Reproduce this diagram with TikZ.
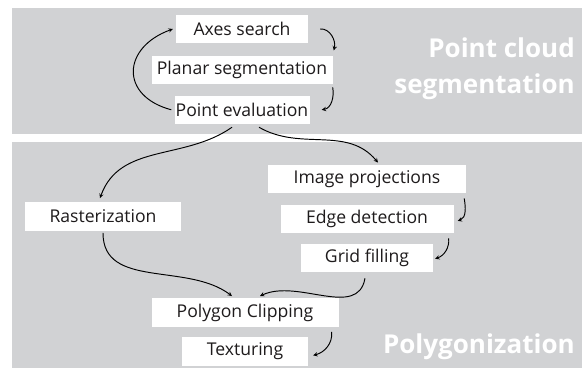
\documentclass[tikz,border=0pt]{standalone}
\usepackage{fontspec}
\setmainfont{Open Sans}
\usepackage{tikz}
\usetikzlibrary{positioning}

\definecolor{panelgray}{RGB}{209,210,212}
\definecolor{textgray}{RGB}{30,27,28}

\begin{document}
\begin{tikzpicture}[x=1pt,y=1pt,>=stealth,
		stepbox/.style={fill=white,text=textgray,font=\fontsize{17.6}{20}\selectfont,minimum height=28.5pt,inner sep=0pt},
		flow/.style={->,line width=0.95pt},
		paneltitle/.style={text=white,font=\fontsize{26}{30}\selectfont\bfseries,anchor=base east,inner sep=0pt}]
				\useasboundingbox (0,0) rectangle (582,-369);
				\fill[panelgray] (12,-8) rectangle (582,-134.5);
				\fill[panelgray] (12,-142) rectangle (582,-368);
				\node[paneltitle] (pctitle) at (575,-58) {Point cloud};
				\node[paneltitle] (segtitle) at (575,-94) {segmentation};
				\node[paneltitle] (polytitle) at (575,-353) {Polygonization};
				\node[stepbox,minimum width=132pt] (axes) at (242,-29) {Axes search};
				\node[stepbox,minimum width=181pt,below=12pt of axes] (planar) {Planar segmentation};
				\node[stepbox,minimum width=135pt,below=11pt of planar] (peval) {Point evaluation};
				\node[stepbox,minimum width=198pt] (imgproj) at (367,-179) {Image projections};
				\node[stepbox,minimum width=173pt,below=11pt of imgproj] (edges) {Edge detection};
				\node[stepbox,minimum width=132pt,below=10pt of edges] (grid) {Grid filling};
				\node[stepbox,minimum width=156pt] (raster) at (103,-216.5) {Rasterization};
				\node[stepbox,minimum width=187pt] (clip) at (245,-312.5) {Polygon Clipping};
				\node[stepbox,minimum width=126pt,below=10pt of clip] (texture) {Texturing};
				\draw[flow] ([xshift=-3pt]peval.west) to[out=165,in=200,looseness=1.7] ([xshift=-3pt]axes.west);
				\draw[flow] ([xshift=12pt]axes.east) to[out=5,in=75] ([xshift=1pt,yshift=5pt]planar.north east);
				\draw[flow] ([yshift=-3pt]planar.south east) to[out=-80,in=10] ([xshift=12pt]peval.east);
				\draw[flow] ([xshift=-10pt,yshift=-3pt]peval.south) to[out=215,in=70] ([xshift=-3pt,yshift=4pt]raster.north);
				\draw[flow] ([xshift=17pt,yshift=-3pt]peval.south) to[out=-30,in=130] ([xshift=11pt,yshift=2pt]imgproj.north);
				\draw[flow] ([xshift=-2pt,yshift=-5pt]imgproj.south east) to[out=-80,in=20] ([xshift=4pt,yshift=-2pt]edges.east);
				\draw[flow] ([xshift=-5pt,yshift=-5pt]edges.south east) to[out=-85,in=20] ([xshift=2pt,yshift=-1pt]grid.east);
				\draw[flow] ([yshift=-2pt]raster.south) to[out=-90,in=143] ([xshift=-13pt,yshift=2pt]clip.north);
				\draw[flow] ([xshift=-2pt,yshift=-6pt]grid.south) to[out=-100,in=25] ([xshift=15pt,yshift=2pt]clip.north);
				\draw[flow] ([xshift=-7pt,yshift=-5pt]clip.south east) to[out=-85,in=15] ([xshift=5pt,yshift=-4pt]texture.east);
			\end{tikzpicture}
\end{document}
